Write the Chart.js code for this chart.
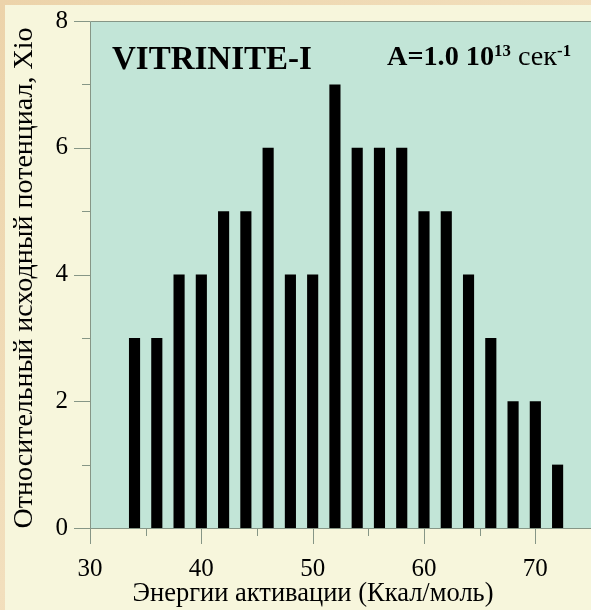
<!DOCTYPE html>
<html><head><meta charset="utf-8">
<script src="https://cdn.jsdelivr.net/npm/chart.js@4"></script>
<style>html,body{margin:0;padding:0;background:#f7f6dc;}canvas{display:block;}</style>
</head><body>
<canvas id="c" width="591" height="610"></canvas>
<script>
// ---- data ----
const energies = [34,36,38,40,42,44,46,48,50,52,54,56,58,60,62,64,66,68,70,72];
const potentials = [3,3,4,4,5,5,6,4,4,7,6,6,6,5,5,4,3,2,2,1];
const xTickValues = [30,40,50,60,70];
const xMinorTicks = [35,45,55,65];
const yTickValues = [0,2,4,6,8];
const yMinorTicks = [1,3,5,7];
const chartTitle = 'VITRINITE-I';
const xTitle = 'Энергии активации (Ккал/моль)';
const yTitle = 'Относительный исходный потенциал, Xio';

const SERIF = '"Liberation Serif", "Times New Roman", serif';
const AXIS_GRAY = '#869686';

const decor = {
  id: 'decor',
  beforeDraw(chart) {
    const ctx = chart.ctx, a = chart.chartArea;
    ctx.save();
    const g = ctx.createLinearGradient(0, 0, 591, 610);
    g.addColorStop(0, '#ecd3aa'); g.addColorStop(0.5, '#f2dfbd'); g.addColorStop(1, '#e9d0a6');
    ctx.fillStyle = g;
    ctx.fillRect(0, 0, chart.width, chart.height);
    ctx.fillStyle = '#f7f6dc';
    ctx.fillRect(5, 5, chart.width - 5, chart.height - 5);
    ctx.fillStyle = '#c2e5d7';
    ctx.fillRect(a.left, a.top, a.right - a.left, a.bottom - a.top);
    ctx.restore();
  },
  afterDraw(chart) {
    const ctx = chart.ctx, a = chart.chartArea;
    const xs = chart.scales.x, ys = chart.scales.y;
    ctx.save();
    ctx.strokeStyle = AXIS_GRAY; ctx.lineWidth = 1;
    ctx.beginPath();
    // frame
    ctx.moveTo(a.left + 0.5, a.bottom + 0.5); ctx.lineTo(a.left + 0.5, a.top + 0.5); ctx.lineTo(a.right, a.top + 0.5);
    ctx.moveTo(a.left, a.bottom + 0.5); ctx.lineTo(a.right, a.bottom + 0.5);
    // x ticks
    xTickValues.forEach(v => { const p = Math.round(xs.getPixelForValue(v)) + 0.5; ctx.moveTo(p, a.bottom); ctx.lineTo(p, a.bottom + 16); });
    xMinorTicks.forEach(v => { const p = Math.round(xs.getPixelForValue(v)) + 0.5; ctx.moveTo(p, a.bottom); ctx.lineTo(p, a.bottom + 8); });
    // y ticks
    yTickValues.forEach(v => { const p = Math.round(ys.getPixelForValue(v)) + 0.5; ctx.moveTo(a.left, p); ctx.lineTo(a.left - 16, p); });
    yMinorTicks.forEach(v => { const p = Math.round(ys.getPixelForValue(v)) + 0.5; ctx.moveTo(a.left, p); ctx.lineTo(a.left - 8, p); });
    ctx.stroke();

    ctx.fillStyle = '#000';
    // titles
    ctx.font = '26.5px ' + SERIF;
    ctx.textAlign = 'center'; ctx.textBaseline = 'alphabetic';
    ctx.fillText(xTitle, 313, 601);
    ctx.save();
    ctx.translate(32, 278); ctx.rotate(-Math.PI / 2);
    ctx.font = '28px ' + SERIF;
    ctx.fillText(yTitle, 0, 0);
    ctx.restore();

    // in-plot labels
    ctx.textAlign = 'left';
    ctx.font = 'bold 33px ' + SERIF;
    ctx.fillText(chartTitle, 112, 69);

    const segs = [
      {t: 'A=1.0 10', f: 'bold 27px ' + SERIF, dy: 0},
      {t: '13', f: 'bold 16px ' + SERIF, dy: -9},
      {t: ' сек', f: '27px ' + SERIF, dy: 0},
      {t: '-1', f: 'bold 16px ' + SERIF, dy: -9}
    ];
    let total = 0;
    segs.forEach(s => { ctx.font = s.f; s.w = ctx.measureText(s.t).width; total += s.w; });
    const sc = 184 / total;
    ctx.save();
    ctx.translate(387, 65); ctx.scale(sc, 1);
    let x = 0;
    segs.forEach(s => { ctx.font = s.f; ctx.fillText(s.t, x, s.dy); x += s.w; });
    ctx.restore();
    ctx.restore();
  }
};

new Chart(document.getElementById('c'), {
  type: 'bar',
  data: {
    datasets: [{
      data: energies.map((e, i) => ({x: e, y: potentials[i]})),
      backgroundColor: '#000',
      borderWidth: 0,
      categoryPercentage: 1,
      barPercentage: 0.5
    }]
  },
  options: {
    responsive: false,
    animation: false,
    layout: {padding: {top: 21, right: 0, left: 0, bottom: 0}},
    plugins: {legend: {display: false}, tooltip: {enabled: false}},
    scales: {
      x: {
        type: 'linear', min: 30, max: 75, offset: false,
        afterFit(s) { s.height = 82; s.paddingLeft = 0; s.paddingRight = 0; },
        afterBuildTicks(s) { s.ticks = xTickValues.map(v => ({value: v})); },
        grid: {display: false, drawTicks: false, offset: false},
        border: {display: false},
        ticks: {font: {family: SERIF, size: 25}, color: '#000', padding: 26, maxRotation: 0, autoSkip: false}
      },
      y: {
        min: 0, max: 8,
        afterFit(s) { s.width = 90; s.paddingTop = 0; s.paddingBottom = 0; },
        afterBuildTicks(s) { s.ticks = yTickValues.map(v => ({value: v})); },
        grid: {display: false, drawTicks: false},
        border: {display: false},
        ticks: {font: {family: SERIF, size: 25}, color: '#000', padding: 22}
      }
    }
  },
  plugins: [decor]
});
</script>
</body></html>
